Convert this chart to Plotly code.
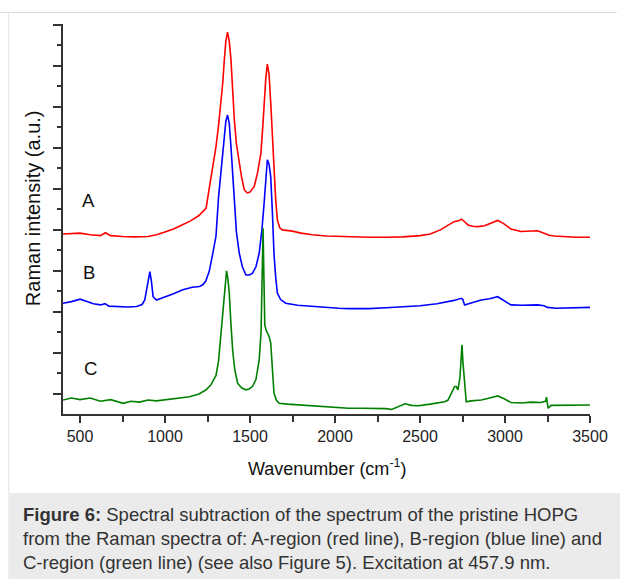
import plotly.graph_objects as go

# ---------------- data ----------------
wn_a = [400, 450, 500, 560, 620, 650, 680, 750, 820, 900, 950, 1000, 1050, 1100, 1150, 1200, 1242, 1262, 1280,
        1300, 1315, 1330, 1340, 1349, 1358, 1368, 1378, 1388, 1398, 1408, 1420, 1437, 1450, 1466, 1484, 1500,
        1525, 1545, 1564, 1575, 1583, 1593, 1602, 1612, 1622, 1632, 1641, 1651, 1661, 1675, 1690, 1720, 1749,
        1800, 1866, 1950, 2022, 2100, 2200, 2300, 2400, 2500, 2560, 2620, 2665, 2700, 2725, 2743, 2752, 2762,
        2782, 2810, 2840, 2880, 2920, 2957, 2990, 3035, 3094, 3150, 3191, 3230, 3260, 3289, 3350, 3420, 3500]
int_a = [3.90, 3.91, 3.92, 3.88, 3.86, 3.93, 3.86, 3.84, 3.83, 3.84, 3.88, 3.95, 4.02, 4.12, 4.22, 4.35, 4.53, 5.06, 5.5,
         6.03, 6.55, 7.09, 7.6, 8.15, 8.6, 8.82, 8.6, 8.15, 7.4, 6.68, 6.1, 5.63, 5.3, 4.98, 4.9, 4.92,
         5.06, 5.4, 5.87, 6.5, 7.09, 7.7, 8.04, 7.8, 7.09, 6.2, 5.46, 4.75, 4.24, 4.05, 4.0, 3.99, 3.97,
         3.92, 3.88, 3.85, 3.84, 3.83, 3.82, 3.82, 3.83, 3.86, 3.9, 4.0, 4.12, 4.2, 4.22, 4.26, 4.24, 4.2,
         4.12, 4.09, 4.08, 4.1, 4.17, 4.23, 4.16, 4.02, 3.96, 3.97, 3.98, 3.92, 3.87, 3.85, 3.83, 3.82, 3.82]

wn_b = [400, 450, 501, 540, 579, 620, 647, 670, 716, 780, 833, 865, 881, 895, 905, 911, 920, 930, 950, 980, 1008,
        1050, 1105, 1160, 1203, 1222, 1240, 1261, 1280, 1300, 1315, 1330, 1349, 1358, 1368, 1378, 1388, 1398,
        1408, 1420, 1437, 1455, 1476, 1495, 1514, 1535, 1554, 1570, 1583, 1593, 1602, 1612, 1622, 1632, 1641,
        1651, 1661, 1680, 1710, 1780, 1866, 1950, 2022, 2080, 2200, 2300, 2400, 2500, 2600, 2665, 2700, 2743,
        2752, 2762, 2782, 2820, 2860, 2910, 2957, 2995, 3035, 3100, 3191, 3230, 3250, 3300, 3400, 3500]
int_b = [2.21, 2.25, 2.31, 2.26, 2.2, 2.17, 2.2, 2.14, 2.13, 2.12, 2.13, 2.18, 2.29, 2.6, 2.9, 2.98, 2.75, 2.37, 2.29, 2.33, 2.37,
         2.44, 2.54, 2.6, 2.62, 2.66, 2.75, 3.0, 3.4, 3.85, 4.8, 5.46, 6.28, 6.65, 6.8, 6.6, 6.03, 5.3,
         4.65, 3.95, 3.43, 3.1, 2.9, 2.9, 2.94, 3.1, 3.43, 4.0, 4.65, 5.3, 5.71, 5.6, 5.3, 4.4, 3.43,
         2.85, 2.46, 2.3, 2.21, 2.16, 2.13, 2.1, 2.09, 2.08, 2.08, 2.1, 2.12, 2.15, 2.2, 2.25, 2.28, 2.33,
         2.3, 2.17, 2.2, 2.24, 2.29, 2.32, 2.37, 2.28, 2.17, 2.16, 2.17, 2.15, 2.11, 2.09, 2.1, 2.11]

wn_c = [400, 450, 500, 560, 620, 680, 754, 800, 850, 900, 950, 1000, 1050, 1100, 1144, 1200, 1242, 1270, 1300,
        1315, 1330, 1340, 1349, 1356, 1362, 1370, 1378, 1388, 1398, 1410, 1427, 1450, 1476, 1495, 1514, 1535,
        1554, 1565, 1570, 1577, 1582, 1587, 1595, 1602, 1612, 1622, 1632, 1641, 1655, 1671, 1720, 1788, 1900,
        2000, 2080, 2160, 2256, 2300, 2333, 2360, 2412, 2450, 2490, 2560, 2620, 2645, 2665, 2684, 2704, 2713,
        2723, 2735, 2742, 2747, 2752, 2762, 2772, 2800, 2860, 2910, 2957, 2995, 3035, 3100, 3150, 3211, 3238,
        3244, 3250, 3254, 3270, 3350, 3420, 3500]
int_c = [-0.15, -0.1, -0.14, -0.1, -0.18, -0.14, -0.23, -0.18, -0.2, -0.15, -0.17, -0.14, -0.12, -0.08, -0.07, 0.0, 0.1, 0.22, 0.45,
         0.8, 1.48, 2.0, 2.46, 2.85, 3.0, 2.8, 2.46, 1.7, 1.07, 0.6, 0.26, 0.15, 0.1, 0.12, 0.18, 0.35,
         0.83, 1.5, 2.29, 4.04, 2.8, 1.68, 1.55, 1.48, 1.4, 1.24, 0.6, 0.02, -0.15, -0.23, -0.25, -0.27, -0.3,
         -0.33, -0.35, -0.35, -0.35, -0.36, -0.38, -0.33, -0.24, -0.28, -0.29, -0.25, -0.2, -0.19, -0.15, 0.02, 0.18, 0.18,
         0.1, 0.4, 0.9, 1.2, 0.8, 0.18, -0.19, -0.17, -0.15, -0.1, -0.05, -0.12, -0.21, -0.22, -0.2, -0.21, -0.18,
         -0.08, -0.2, -0.35, -0.28, -0.28, -0.27, -0.27]

series_names = ["A", "B", "C"]
label_x = [550, 550, 560]
label_y = [4.72, 2.95, 0.62]

x_ticks = [500, 1000, 1500, 2000, 2500, 3000, 3500]

caption = ("<b>Figure 6:</b> Spectral subtraction of the spectrum of the pristine HOPG<br>"
           "from the Raman spectra of: A-region (red line), B-region (blue line) and<br>"
           "C-region (green line) (see also Figure 5). Excitation at 457.9 nm.")

# ---------------- figure ----------------
FONT = "Liberation Sans, Arial, sans-serif"
L, R, T, B = 63, 27, 24, 165
W, H = 620, 579
PW, PH = W - L - R, H - T - B


def px(xp):
    return (xp - L) / PW


def py(yp):
    return (H - B - yp) / PH


fig = go.Figure()
for wn, val, col, nm in [(wn_a, int_a, "#ff0000", "A"), (wn_b, int_b, "#0000ff", "B"),
                         (wn_c, int_c, "#008000", "C")]:
    fig.add_trace(go.Scatter(x=wn, y=val, mode="lines", name=nm,
                             line=dict(color=col, width=1.6), showlegend=False))

for nm, lx, ly in zip(series_names, label_x, label_y):
    fig.add_annotation(x=lx, y=ly, text=nm, showarrow=False, xanchor="center", yanchor="middle",
                       font=dict(family=FONT, size=18.5, color="#111"))

# axis titles
fig.add_annotation(xref="paper", yref="paper", x=px(33), y=py(208), text="Raman intensity (a.u.)",
                   xanchor="center", yanchor="middle",
                   textangle=-90, showarrow=False, font=dict(family=FONT, size=20, color="#111"))
fig.add_annotation(xref="paper", yref="paper", x=px(329), y=py(467), text="Wavenumber (cm<sup>-1</sup>)",
                   xanchor="center", yanchor="middle",
                   showarrow=False, font=dict(family=FONT, size=18, color="#111"))

# caption box and frame rules
fig.add_shape(type="rect", xref="paper", yref="paper", x0=px(8), x1=px(625), y0=py(493), y1=py(585),
              fillcolor="#ebebeb", line=dict(width=0), layer="below")
fig.add_shape(type="line", xref="paper", yref="paper", x0=px(0), x1=px(620), y0=py(12.5), y1=py(12.5),
              line=dict(color="#dcdcdc", width=1))
fig.add_shape(type="line", xref="paper", yref="paper", x0=px(8.5), x1=px(8.5), y0=py(12.5), y1=py(493),
              line=dict(color="#e2e2e2", width=1))
fig.add_annotation(xref="paper", yref="paper", x=px(21), y=py(538), xanchor="left", yanchor="middle",
                   text=caption, align="left", showarrow=False,
                   font=dict(family=FONT, size=18.5, color="#333"))

fig.update_layout(
    width=W, height=H, margin=dict(l=L, r=R, t=T, b=B),
    plot_bgcolor="white", paper_bgcolor="white",
    xaxis=dict(range=[400, 3500], tickvals=x_ticks, ticktext=[str(v) for v in x_ticks],
               ticks="outside", ticklen=7, tickwidth=1.5, tickcolor="#333",
               showline=True, linecolor="#333", linewidth=2, showgrid=False, zeroline=False,
               tickfont=dict(family=FONT, size=16, color="#222"),
               minor=dict(tick0=250, dtick=250, ticks="outside", ticklen=6, tickwidth=1.5, tickcolor="#333")),
    yaxis=dict(range=[-0.49, 9.02], tick0=0, dtick=1, ticks="outside", ticklen=8, tickwidth=1.5,
               tickcolor="#333", showticklabels=False,
               showline=True, linecolor="#333", linewidth=2, showgrid=False, zeroline=False,
               minor=dict(tick0=0.5, dtick=1, ticks="outside", ticklen=4, tickwidth=1.5, tickcolor="#333")),
)

fig.write_html("out.html", config={"displayModeBar": False},
               post_script="document.body.style.margin='0';document.body.style.overflow='hidden';")
